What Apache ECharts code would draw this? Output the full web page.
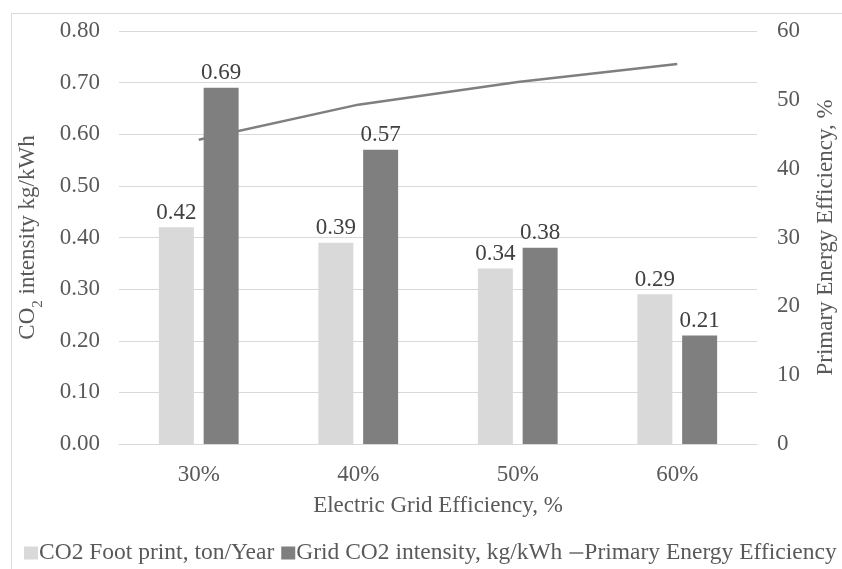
<!DOCTYPE html>
<html>
<head>
<meta charset="utf-8">
<script src="https://cdn.jsdelivr.net/npm/echarts@6.0.0/dist/echarts.min.js"></script>
<style>
  html, body { margin: 0; padding: 0; background: #ffffff; }
  #chart { width: 842px; height: 569px; }
</style>
</head>
<body>
<div id="chart"></div>
<script>
// Electric grid efficiency scenarios
const categories = ['30%', '40%', '50%', '60%'];
// CO2 footprint, ton/year
const footprint = [0.42, 0.39, 0.34, 0.29];
// Grid CO2 intensity, kg/kWh
const gridIntensity = [0.69, 0.57, 0.38, 0.21];
// Primary energy efficiency, %
const primaryEfficiency = [44.2, 49.3, 52.6, 55.2];

const FONT = '"Liberation Serif", "Times New Roman", serif';
const TEXT = '#595959';
const GRID_LINE = '#d9d9d9';
const FS = 23;

const chart = echarts.init(document.getElementById('chart'), null, { renderer: 'canvas' });

const barLabel = {
  show: true,
  position: 'top',
  distance: 3,
  fontFamily: FONT,
  fontSize: FS,
  color: '#404040',
  formatter: p => p.value.toFixed(2)
};

chart.setOption({
  backgroundColor: '#ffffff',
  animation: false,
  graphic: [{
    type: 'rect',
    shape: { x: 11.5, y: 13.5, width: 900, height: 700 },
    style: { fill: 'none', stroke: GRID_LINE, lineWidth: 1 },
    silent: true,
    z: -10
  }],
  grid: { left: 119, right: 85, top: 31, bottom: 125, containLabel: false, outerBoundsMode: 'none' },
  legend: {
    left: 19,
    top: 536,
    itemWidth: 14,
    itemHeight: 13,
    itemGap: 7,
    symbolKeepAspect: true,
    textStyle: { fontFamily: FONT, fontSize: 23.5, color: TEXT, padding: [0, 0, 0, -4] },
    data: [
      { name: 'CO2 Foot print, ton/Year', icon: 'rect' },
      { name: 'Grid CO2 intensity, kg/kWh', icon: 'rect' },
      { name: 'Primary Energy Efficiency', icon: 'path://M0,0H16V2H0Z' }
    ]
  },
  xAxis: {
    type: 'category',
    data: categories,
    name: 'Electric Grid Efficiency, %',
    nameLocation: 'middle',
    nameGap: 50,
    nameTextStyle: { fontFamily: FONT, fontSize: FS, color: TEXT },
    axisLine: { show: true, lineStyle: { color: GRID_LINE, width: 1 } },
    axisTick: { show: false },
    axisLabel: { fontFamily: FONT, fontSize: FS, color: TEXT, margin: 19 }
  },
  yAxis: [{
    type: 'value',
    min: 0,
    max: 0.8,
    interval: 0.1,
    name: '{a|CO}{s|2}{a| intensity kg/kWh}',
    nameLocation: 'middle',
    nameGap: 80,
    nameRotate: 90,
    nameTextStyle: {
      color: TEXT,
      rich: {
        a: { fontFamily: FONT, fontSize: FS, color: TEXT, lineHeight: 26, verticalAlign: 'bottom' },
        s: { fontFamily: FONT, fontSize: 15, color: TEXT, lineHeight: 26, verticalAlign: 'bottom', padding: [0, 0, -7, 0] }
      }
    },
    axisLine: { show: false },
    axisTick: { show: false },
    splitLine: { lineStyle: { color: GRID_LINE, width: 1 } },
    axisLabel: { fontFamily: FONT, fontSize: FS, color: TEXT, margin: 19, formatter: v => v.toFixed(2) }
  }, {
    type: 'value',
    min: 0,
    max: 60,
    interval: 10,
    position: 'right',
    name: 'Primary Energy Efficiency, %',
    nameLocation: 'middle',
    nameGap: 57,
    nameRotate: 90,
    nameTextStyle: { fontFamily: FONT, fontSize: FS, color: TEXT },
    axisLine: { show: false },
    axisTick: { show: false },
    splitLine: { show: false },
    axisLabel: { fontFamily: FONT, fontSize: FS, color: TEXT, margin: 20 }
  }],
  series: [{
    name: 'CO2 Foot print, ton/Year',
    type: 'bar',
    data: footprint,
    barCategoryGap: '50%',
    barGap: '28%',
    itemStyle: { color: '#d9d9d9' },
    label: barLabel
  }, {
    name: 'Grid CO2 intensity, kg/kWh',
    type: 'bar',
    data: gridIntensity,
    itemStyle: { color: '#7f7f7f' },
    label: barLabel
  }, {
    name: 'Primary Energy Efficiency',
    type: 'line',
    yAxisIndex: 1,
    data: primaryEfficiency,
    symbol: 'none',
    lineStyle: { color: '#7f7f7f', width: 2.5 },
    itemStyle: { color: '#7f7f7f' },
    z: 5
  }]
});
</script>
</body>
</html>
